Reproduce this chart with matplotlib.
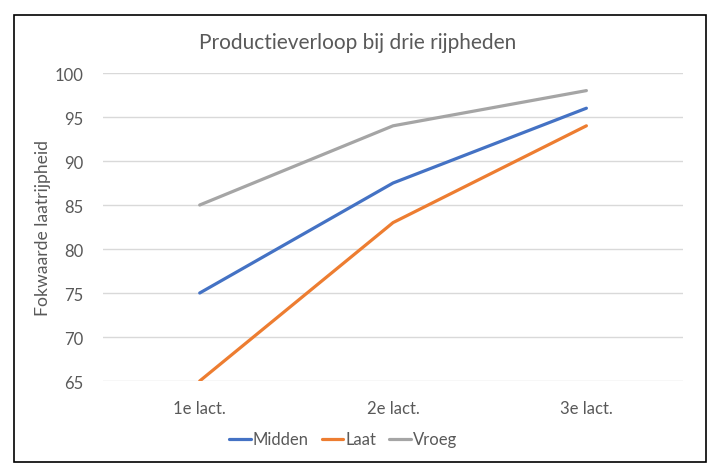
import matplotlib
matplotlib.use('Agg')
import matplotlib.pyplot as plt
from matplotlib.patches import Rectangle

plt.rcParams['font.family'] = ['Lato', 'DejaVu Sans']

# data
categories = ['1e lact.', '2e lact.', '3e lact.']
midden = [75, 87.5, 96]
laat = [65, 83, 94]
vroeg = [85, 94, 98]
y_ticks = [65, 70, 75, 80, 85, 90, 95, 100]

txt = '#595959'

fig = plt.figure(figsize=(7.16, 4.64), dpi=100)
ax = fig.add_axes([0.1439, 0.1767, 0.954 - 0.1439, 0.8405 - 0.1767])

x = list(range(len(categories)))
ax.plot(x, midden, color='#4472C4', lw=2.3, label='Midden', solid_capstyle='round')
ax.plot(x, laat, color='#ED7D31', lw=2.3, label='Laat', solid_capstyle='round')
ax.plot(x, vroeg, color='#A5A5A5', lw=2.3, label='Vroeg', solid_capstyle='round')

ax.set_xlim(-0.5, 2.5)
ax.set_ylim(65, 100)
ax.set_yticks(y_ticks)
ax.set_xticks(x)
ax.set_xticklabels(categories)
ax.grid(axis='y', color='#D9D9D9', lw=1)
ax.set_axisbelow(True)
for s in ax.spines.values():
    s.set_visible(False)
ax.tick_params(length=0, colors=txt, labelsize=12)
ax.tick_params(axis='x', pad=14)
ax.tick_params(axis='y', pad=14)

ax.set_ylabel('Fokwaarde laatrijpheid', color=txt, fontsize=12.6, labelpad=3)
fig.text(0.5, 0.907, 'Productieverloop bij drie rijpheden', ha='center', va='center',
         color=txt, fontsize=15)

leg = ax.legend(loc='center', bbox_to_anchor=(0.479, 0.051), bbox_transform=fig.transFigure,
                ncol=3, frameon=False, fontsize=12, handlelength=1.3, handletextpad=0.1,
                columnspacing=0.8)
for t in leg.get_texts():
    t.set_color(txt)

fig.patches.append(Rectangle((14 / 716, 0.002), (706 - 14) / 716, 0.9655 - 0.002,
                             transform=fig.transFigure, fill=False, ec='black', lw=1.2))

fig.savefig('out.png', dpi=100)
